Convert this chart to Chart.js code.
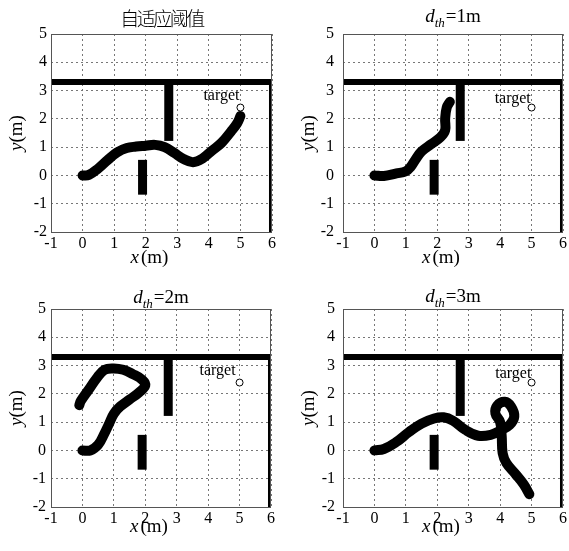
<!DOCTYPE html>
<html>
<head>
<meta charset="utf-8">
<script src="https://cdn.jsdelivr.net/npm/chart.js@4.4.1/dist/chart.umd.min.js"></script>
<style>
  body { margin: 0; background: #fff; }
  #wrap { position: relative; width: 569px; height: 551px; }
  .panel { position: absolute; }
</style>
</head>
<body>
<div id="wrap">
  <div class="panel" style="left:0;top:0;"><canvas id="c1" width="285" height="275"></canvas></div>
  <div class="panel" style="left:285px;top:0;"><canvas id="c2" width="284" height="275"></canvas></div>
  <div class="panel" style="left:0;top:275px;"><canvas id="c3" width="285" height="276"></canvas></div>
  <div class="panel" style="left:285px;top:275px;"><canvas id="c4" width="284" height="276"></canvas></div>
</div>
<script>
// axes
const xMin = -1, xMax = 6;
const yMin = -2, yMax = 5;

// obstacles (m)
const wallX = [-1, 6];
const wallY = [3.3, 3.3];
const stubX = [2.73, 2.73];
const stubY = [1.22, 3.3];
const blockX = [1.9, 1.9];
const blockY = [-0.68, 0.55];
const sideWallX = [5.96, 5.96];
const sideWallY = [-2, 3.38];

const targetX = [5];
const targetY = [2.4];

// trajectories
const adaptX = [0, 0.2, 0.5, 0.8, 1.1, 1.4, 1.7, 2.0, 2.3, 2.6, 2.9, 3.2, 3.5, 3.8, 4.1, 4.4, 4.7, 4.9, 5.0];
const adaptY = [0, 0.02, 0.25, 0.55, 0.82, 0.97, 1.02, 1.05, 1.08, 1.0, 0.8, 0.58, 0.47, 0.6, 0.88, 1.15, 1.55, 1.85, 2.1];

const d1X = [0, 0.3, 0.7, 1.0, 1.15, 1.3, 1.5, 1.8, 2.1, 2.25, 2.25, 2.3, 2.4];
const d1Y = [0, -0.02, 0.07, 0.15, 0.3, 0.55, 0.85, 1.1, 1.35, 1.6, 2.0, 2.4, 2.6];

const d2X = [0, 0.25, 0.5, 0.7, 0.85, 1.0, 1.2, 1.5, 1.8, 2.0, 1.9, 1.6, 1.3, 1.0, 0.7, 0.45, 0.2, -0.05, -0.1];
const d2Y = [0, 0.0, 0.2, 0.6, 0.95, 1.3, 1.55, 1.8, 2.05, 2.3, 2.5, 2.7, 2.85, 2.9, 2.85, 2.55, 2.15, 1.75, 1.6];

const d3X = [0, 0.3, 0.7, 1.1, 1.5, 1.9, 2.2, 2.5, 2.9, 3.3, 3.7, 4.0, 4.3, 4.45, 4.35, 4.15, 3.9, 3.85, 4.0, 4.05, 4.08, 4.2, 4.5, 4.75, 4.93];
const d3Y = [0, 0.05, 0.3, 0.65, 0.95, 1.13, 1.17, 1.05, 0.72, 0.52, 0.55, 0.7, 0.9, 1.2, 1.55, 1.72, 1.58, 1.3, 1.0, 0.5, -0.1, -0.45, -0.85, -1.2, -1.55];

const SERIF = '"Liberation Serif", "Times New Roman", serif';
const CJK = '"Noto Sans CJK SC", sans-serif';

const toPts = (xs, ys) => xs.map((x, i) => ({ x: x, y: ys[i] }));

// draw a row of text pieces (italic / subscript) centred on cx
function drawRich(ctx, parts, cx, baseY, size, rotate) {
    const fontOf = p => (p.it ? 'italic ' : '') + (p.cjk ? '300 ' : '') + (p.sub ? Math.round(size * 0.68) : size) + 'px ' + (p.cjk ? CJK : SERIF);
    let total = 0;
    parts.forEach(p => {
        ctx.font = fontOf(p);
        p.w = p.cjk ? p.t.length * p.step : ctx.measureText(p.t).width;
        total += p.w + (p.gap || 0);
    });
    ctx.save();
    ctx.translate(cx, baseY);
    if (rotate) ctx.rotate(-Math.PI / 2);
    let x = -total / 2;
    ctx.fillStyle = '#000';
    ctx.textAlign = 'left';
    ctx.textBaseline = 'alphabetic';
    parts.forEach(p => {
        ctx.font = fontOf(p);
        if (p.cjk) {
            for (let i = 0; i < p.t.length; i++) ctx.fillText(p.t[i], x + i * p.step, 0);
        } else {
            ctx.fillText(p.t, x, p.sub ? size * 0.28 : 0);
        }
        x += p.w + (p.gap || 0);
    });
    ctx.restore();
}

const panelDecor = {
    id: 'panelDecor',
    afterDraw(chart, args, opts) {
        const { ctx, chartArea: a, scales } = chart;
        ctx.save();
        ctx.strokeStyle = '#555';
        ctx.lineWidth = 1;
        ctx.strokeRect(Math.round(a.left) + 0.5, Math.round(a.top) + 0.5, Math.round(a.right - a.left) - 1, Math.round(a.bottom - a.top));
        ctx.font = '16px ' + SERIF;
        ctx.fillStyle = '#000';
        ctx.textAlign = 'center';
        ctx.fillText('target', scales.x.getPixelForValue(opts.labelX), scales.y.getPixelForValue(opts.labelY));
        ctx.restore();

        const cx = (a.left + a.right) / 2;
        drawRich(ctx, opts.title, cx, a.top - opts.titleGap, 19, false);
        drawRich(ctx, [{ t: 'x', it: true, gap: 2 }, { t: '(m)' }], cx - 12, a.bottom + opts.xlabGap, 19, false);
        drawRich(ctx, [{ t: 'y', it: true }, { t: '(m)' }], a.left - 29, (a.top + a.bottom) / 2, 19, true);
    }
};

function lineSet(xs, ys, width, cap) {
    return {
        data: toPts(xs, ys),
        showLine: true,
        borderColor: '#000',
        backgroundColor: '#000',
        borderWidth: width,
        borderCapStyle: cap,
        borderJoinStyle: 'round',
        pointRadius: 0,
        tension: 0
    };
}

function makePanel(id, pathX, pathY, box, deco) {
    const path = lineSet(pathX, pathY, 10, 'round');
    path.tension = 0.4;
    const datasets = [
        path,
        {
            data: toPts(targetX, targetY),
            pointRadius: 3.5,
            pointStyle: 'circle',
            borderColor: '#000',
            backgroundColor: '#fff',
            borderWidth: 1
        },
        lineSet(wallX, wallY, 6, 'butt'),
        lineSet(stubX, stubY, 9, 'butt'),
        lineSet(blockX, blockY, 9, 'butt'),
        lineSet(sideWallX, sideWallY, 3.5, 'butt')
    ];

    const scaleBase = {
        grid: { color: '#777', lineWidth: 1, drawTicks: false },
        border: { display: false, dash: [2, 3] },
        ticks: { stepSize: 1, color: '#000', font: { family: SERIF, size: 16 } }
    };

    new Chart(document.getElementById(id), {
        type: 'scatter',
        data: { datasets: datasets },
        options: {
            responsive: false,
            animation: false,
            events: [],
            layout: { padding: { left: 0, top: box.top, right: box.right, bottom: 0 } },
            plugins: { legend: { display: false }, tooltip: { enabled: false }, panelDecor: deco },
            scales: {
                x: Object.assign({}, scaleBase, {
                    min: xMin, max: xMax,
                    ticks: Object.assign({}, scaleBase.ticks, { padding: 2, maxRotation: 0 }),
                    afterFit: s => { s.height = box.xh; }
                }),
                y: Object.assign({}, scaleBase, {
                    min: yMin, max: yMax,
                    ticks: Object.assign({}, scaleBase.ticks, { padding: box.ypad }),
                    afterFit: s => { s.width = box.left; }
                })
            }
        },
        plugins: [panelDecor]
    });
}

const dth = n => [{ t: 'd', it: true }, { t: 'th', it: true, sub: true, gap: 1 }, { t: '=' + n + 'm' }];

makePanel('c1', adaptX, adaptY, { left: 51, right: 13, top: 34, xh: 43, ypad: 4 },
    { title: [{ t: '自适应阈值', cjk: true, step: 16.5 }], titleGap: 8, xlabGap: 31, labelX: 4.4, labelY: 2.68 });
makePanel('c2', d1X, d1Y, { left: 58, right: 6, top: 34, xh: 43, ypad: 9 },
    { title: dth(1), titleGap: 12, xlabGap: 31, labelX: 4.4, labelY: 2.55 });
makePanel('c3', d2X, d2Y, { left: 51, right: 14, top: 34, xh: 44, ypad: 5 },
    { title: dth(2), titleGap: 6, xlabGap: 25, labelX: 4.3, labelY: 2.68 });
makePanel('c4', d3X, d3Y, { left: 58, right: 6, top: 34, xh: 44, ypad: 8 },
    { title: dth(3), titleGap: 7, xlabGap: 25, labelX: 4.42, labelY: 2.55 });
</script>
</body>
</html>
